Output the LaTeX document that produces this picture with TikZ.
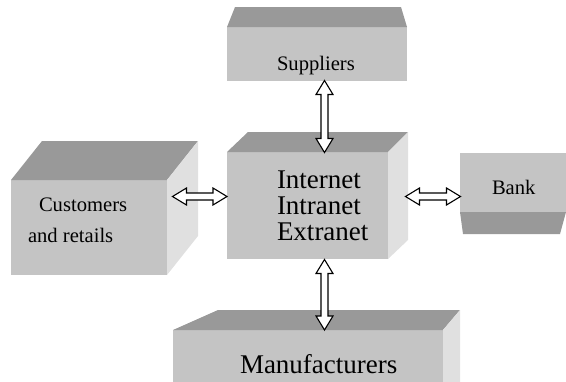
\documentclass[tikz,border=0pt]{standalone}
\usepackage{fontspec}
\setmainfont{Liberation Serif}
\usetikzlibrary{calc}
\definecolor{topc}{HTML}{999999}
\definecolor{frontc}{HTML}{C4C4C4}
\definecolor{sidec}{HTML}{E0E0E0}
\tikzset{
  front/.style={fill=frontc, draw=none, inner sep=0pt, outer sep=0pt, rectangle},
  topface/.style={fill=topc},
  sideface/.style={fill=sidec},
  lbl/.style={inner sep=0pt, outer sep=0pt, text=black},
  small/.style={font=\fontsize{20.6}{24}\selectfont},
  big/.style={font=\fontsize{27}{26}\selectfont},
  hollow/.style={draw=black, fill=white, line width=1.1pt, line join=miter,
    to path={
      -- ($(\tikztostart)!16.378pt!31.26:(\tikztotarget)$)
      -- ($(\tikztostart)!14.431pt!14.04:(\tikztotarget)$)
      -- ($(\tikztotarget)!14.431pt!-14.04:(\tikztostart)$)
      -- ($(\tikztotarget)!16.378pt!-31.26:(\tikztostart)$)
      -- (\tikztotarget)
      -- ($(\tikztotarget)!16.378pt!31.26:(\tikztostart)$)
      -- ($(\tikztotarget)!14.431pt!14.04:(\tikztostart)$)
      -- ($(\tikztostart)!14.431pt!-14.04:(\tikztotarget)$)
      -- ($(\tikztostart)!16.378pt!-31.26:(\tikztotarget)$)
      -- cycle}}
}
\begin{document}
\begin{tikzpicture}[x=1pt,y=-1pt]
\useasboundingbox (0,0) rectangle (566,381);
% Suppliers
\node[front, minimum width=180pt, minimum height=54pt] (sup) at (317,54) {};
\fill[topface] (sup.north west) -- (235,7) -- (401,7) -- (sup.north east) -- cycle;
\node[lbl, small, anchor=base west] (supt) at (277,70) {Suppliers};
% Customers
\node[front, minimum width=156pt, minimum height=95pt] (cus) at (89,227.5) {};
\fill[topface] (cus.north west) -- (42,141) -- (198,141) -- (cus.north east) -- cycle;
\fill[sideface] (cus.north east) -- (198,141) -- (198,236) -- (cus.south east) -- cycle;
\node[lbl, small, anchor=base west] (cust1) at (39,211) {Customers};
\node[lbl, small, anchor=base west] (cust2) at (28,242) {and retails};
% Central
\node[front, minimum width=161pt, minimum height=107pt] (net) at (307.5,205.5) {};
\fill[topface] (net.north west) -- (248,132) -- (408,132) -- (net.north east) -- cycle;
\fill[sideface] (net.north east) -- (408,132) -- (408,240) -- (net.south east) -- cycle;
\node[lbl, big, anchor=base west] (nt1) at (277,188) {Internet};
\node[lbl, big, anchor=base west] (nt2) at (277,214) {Intranet};
\node[lbl, big, anchor=base west] (nt3) at (277,240) {Extranet};
% Bank
\node[front, minimum width=106pt, minimum height=59pt] (bank) at (513,182.5) {};
\fill[topface] (bank.south west) -- (bank.south east) -- (560,234) -- (463,234) -- cycle;
\node[lbl, small, anchor=base west] (bankt) at (492,194) {Bank};
% Manufacturers
\node[front, minimum width=270pt, minimum height=52pt] (man) at (308,356) {};
\fill[topface] (man.north west) -- (218,310) -- (460,310) -- (man.north east) -- cycle;
\fill[sideface] (man.north east) -- (460,310) -- (460,382) -- (man.south east) -- cycle;
\node[lbl, big, anchor=base west] (mant) at (240,373) {Manufacturers};
% connectors
\coordinate (s1) at (324.5,80.5);
\coordinate (n1) at (324.5,152.5);
\coordinate (n2) at (324.5,259.5);
\coordinate (m1) at (324.5,330);
\coordinate (c1) at (172.5,196.5);
\coordinate (n3) at (227,196.5);
\coordinate (n4) at (405.5,196.5);
\coordinate (b1) at (460.5,196.5);
\draw[hollow] (s1) to (n1);
\draw[hollow] (n2) to (m1);
\draw[hollow] (c1) to (n3);
\draw[hollow] (n4) to (b1);
\end{tikzpicture}
\end{document}
